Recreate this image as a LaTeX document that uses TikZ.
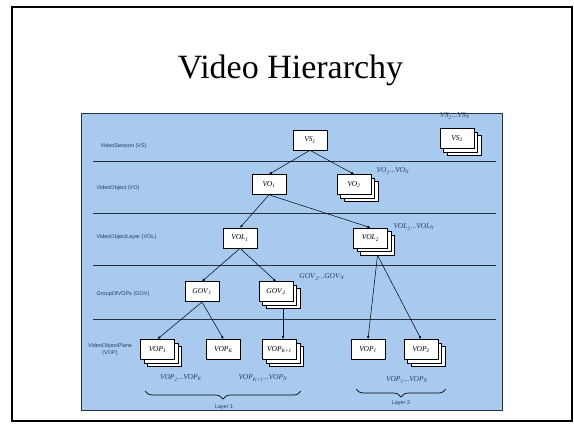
\documentclass[tikz,border=0pt]{standalone}
\usepackage{fontspec}
\setmainfont{Liberation Serif}
\newfontfamily\layerfont{Liberation Sans}
\usetikzlibrary{arrows.meta,shadows,decorations.pathreplacing}
\definecolor{panelblue}{RGB}{168,202,238}
\definecolor{inkblue}{RGB}{45,62,95}
\definecolor{ruleline}{RGB}{40,48,66}
\newcommand{\objname}[2]{\textit{#1}\textsubscript{\textit{#2}}}

\begin{document}
\begin{tikzpicture}
[x=1pt,y=-1pt,
  objbox/.style={draw,fill=white,line width=0.6pt,minimum width=34pt,
    minimum height=20pt,inner sep=1pt,font=\fontsize{7.5}{9}\selectfont},
  stackbox/.style={objbox,double copy shadow={shadow xshift=3.5pt,shadow yshift=-3.5pt}},
  layerlabel/.style={anchor=west,text=inkblue,font=\layerfont\fontsize{5.5}{6.5}\selectfont},
  rangelabel/.style={text=inkblue,font=\fontsize{7.5}{9}\selectfont},
  linkarrow/.style={-{Latex[length=3pt,width=2.6pt]},line width=0.5pt},
  layerbrace/.style={decorate,decoration={brace,mirror,amplitude=8pt},line width=0.7pt}]
\useasboundingbox (0,0) rectangle (574,424);
%% slide frame and title
\draw[line width=2pt] (11.5,6.5) rectangle (571.5,421);
\node[anchor=base,font=\fontsize{34}{40}\selectfont] (title) at (290.5,78) {Video Hierarchy};
%% panel and layer rules
\draw[fill=panelblue,draw=ruleline,line width=0.8pt] (81,113) rectangle (502,410);
\foreach \y in {161,213,265,319} {
  \draw[ruleline,line width=0.8pt] (93,\y) -- (496,\y);
}
%% layer names
\node[layerlabel] (lvs) at (97,146) {VideoSession (VS)};
\node[layerlabel] (lvo) at (93,188) {VideoObject (VO)};
\node[layerlabel] (lvol) at (93,237) {VideoObjectLayer (VOL)};
\node[layerlabel] (lgov) at (93,294) {GroupOfVOPs (GOV)};
\node[layerlabel,anchor=center,align=center] (lvop) at (110,349.5) {VideoObjectPlane\\(VOP)};
%% objects
\node[objbox] (vs1) at (310,140) {\objname{VS}{1}};
\node[stackbox] (vs2) at (457,138.5) {\objname{VS}{2}};
\node[objbox] (vo1) at (269,184.5) {\objname{VO}{1}};
\node[stackbox] (vo2) at (354,184.5) {\objname{VO}{2}};
\node[objbox] (vol1) at (240,238) {\objname{VOL}{1}};
\node[stackbox] (vol2) at (370.5,238) {\objname{VOL}{2}};
\node[objbox] (gov1) at (202,291.7) {\objname{GOV}{1}};
\node[stackbox] (gov2) at (276,291.7) {\objname{GOV}{2}};
\node[stackbox] (vopa) at (157.5,349.3) {\objname{VOP}{1}};
\node[objbox] (vopk) at (223.5,349.3) {\objname{VOP}{K}};
\node[stackbox] (vopk1) at (279.5,349.3) {\objname{VOP}{K+1}};
\node[objbox] (vopb) at (368,349.3) {\objname{VOP}{1}};
\node[stackbox] (vopc) at (421,349.3) {\objname{VOP}{2}};
%% ranges
\node[rangelabel] (rvs) at (455,116) {\objname{VS}{2}...\objname{VS}{N}};
\node[rangelabel] (rvo) at (393,171) {\objname{VO}{2}...\objname{VO}{N}};
\node[rangelabel] (rvol) at (414,227) {\objname{VOL}{2}...\objname{VOL}{N}};
\node[rangelabel] (rgov) at (322,277) {\objname{GOV}{2}...\objname{GOV}{N}};
\node[rangelabel] (rvopa) at (181,378) {\objname{VOP}{2}...\objname{VOP}{K}};
\node[rangelabel] (rvopk) at (263,378) {\objname{VOP}{K+1}...\objname{VOP}{N}};
\node[rangelabel] (rvopb) at (407,380) {\objname{VOP}{1}...\objname{VOP}{N}};
%% links
\coordinate (vol2b) at ([shift={(7pt,-7pt)}]vol2.south);
\coordinate (gov2b) at ([shift={(7pt,-7pt)}]gov2.south);
\path
\foreach \from/\to in {vs1/vo1, vs1/vo2, vo1/vol1, vo1/vol2, vol1/gov1, vol1/gov2,
  gov1/vopa, gov1/vopk} {
  (\from.south) edge[linkarrow] (\to.north)
};
\path
\foreach \to in {vopb, vopc} {
  (vol2b) edge[linkarrow] (\to.north)
};
\draw[linkarrow] (gov2b) -- (gov2b |- vopk1.north);
%% layers
\draw[layerbrace] (145,391) -- (301,391);
\draw[layerbrace] (356,389) -- (446,389);
\node[layerlabel,anchor=center] (lay1) at (224,407) {Layer 1};
\node[layerlabel,anchor=center] (lay2) at (401,403) {Layer 2};
\end{tikzpicture}
\end{document}
